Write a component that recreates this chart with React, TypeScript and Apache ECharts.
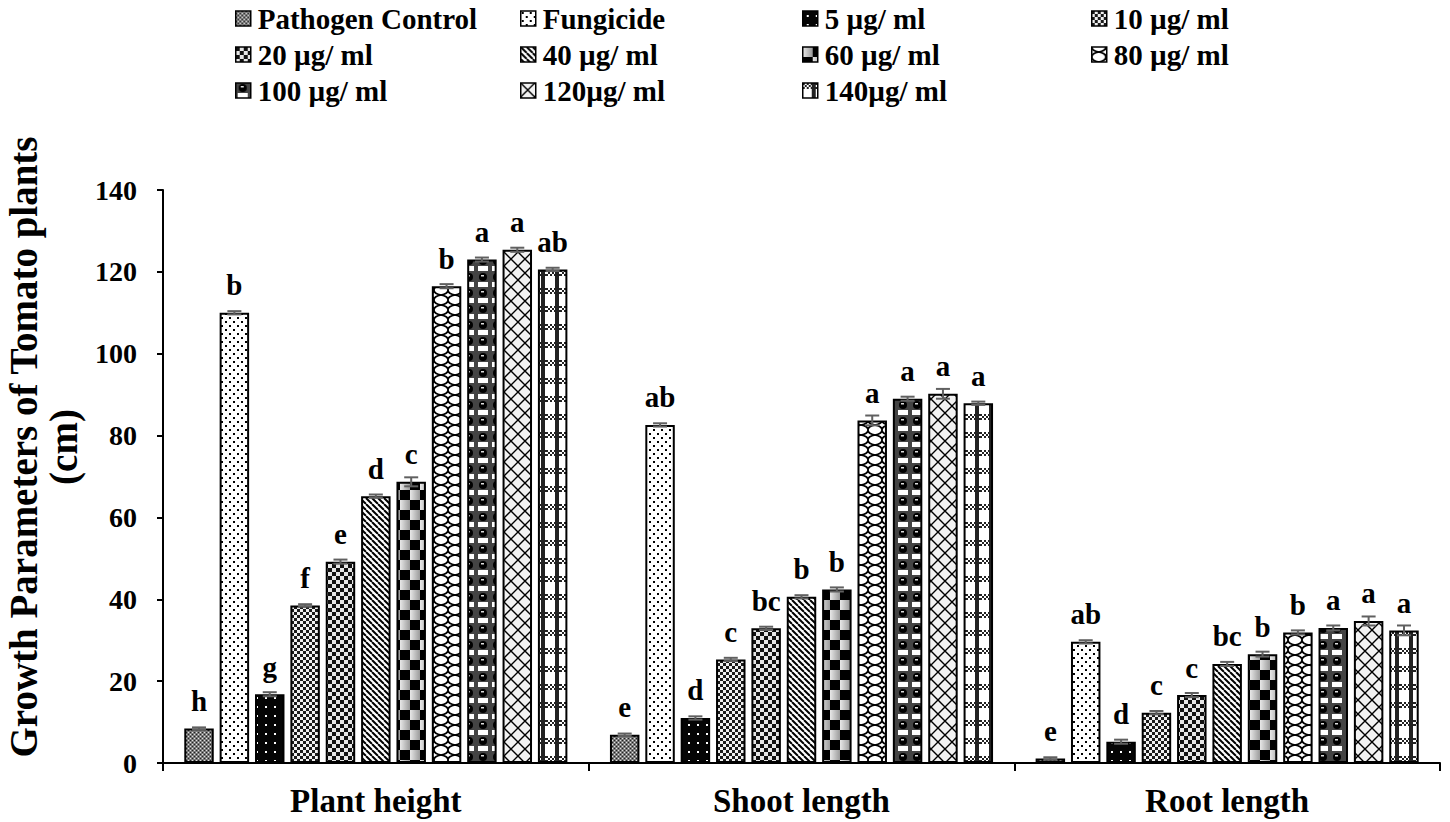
import React, { useEffect, useRef } from "react";
import * as echarts from "echarts";

const categories = ["Plant height", "Shoot length", "Root length"];
const treatments = [
  "Pathogen Control", "Fungicide", "5 µg/ ml", "10 µg/ ml", "20 µg/ ml", "40 µg/ ml",
  "60 µg/ ml", "80 µg/ ml", "100 µg/ ml", "120µg/ ml", "140µg/ ml",
];
const pathogenControl = [8.4, 6.9, 1.1];
const fungicide = [110.0, 82.6, 29.6];
const c5 = [16.8, 11.0, 5.2];
const c10 = [38.5, 25.3, 12.3];
const c20 = [49.2, 32.9, 16.6];
const c40 = [65.2, 40.6, 24.2];
const c60 = [68.7, 42.4, 26.6];
const c80 = [116.5, 83.7, 31.9];
const c100 = [123.0, 89.0, 33.0];
const c120 = [125.4, 90.2, 34.7];
const c140 = [120.6, 87.9, 32.4];
const values = [pathogenControl, fungicide, c5, c10, c20, c40, c60, c80, c100, c120, c140];

const errPC = [0.3, 0.3, 0.3];
const errFung = [0.4, 0.4, 0.4];
const err5 = [0.5, 0.4, 0.5];
const err10 = [0.3, 0.4, 0.4];
const err20 = [0.5, 0.4, 0.5];
const err40 = [0.4, 0.4, 0.5];
const err60 = [1.1, 0.5, 0.6];
const err80 = [0.5, 1.2, 0.5];
const err100 = [0.5, 0.5, 0.6];
const err120 = [0.5, 1.2, 1.1];
const err140 = [0.4, 0.4, 1.2];
const errors = [errPC, errFung, err5, err10, err20, err40, err60, err80, err100, err120, err140];

const lettersPC = ["h", "e", "e"];
const lettersFung = ["b", "ab", "ab"];
const letters5 = ["g", "d", "d"];
const letters10 = ["f", "c", "c"];
const letters20 = ["e", "bc", "c"];
const letters40 = ["d", "b", "bc"];
const letters60 = ["c", "b", "b"];
const letters80 = ["b", "a", "b"];
const letters100 = ["a", "a", "a"];
const letters120 = ["a", "a", "a"];
const letters140 = ["ab", "a", "a"];
const letters = [lettersPC, lettersFung, letters5, letters10, letters20, letters40, letters60, letters80, letters100, letters120, letters140];

const yTicks = { min: 0, max: 140, interval: 20 };
const legendColumns = [
  ["Pathogen Control", "20 µg/ ml", "100 µg/ ml"],
  ["Fungicide", "40 µg/ ml", "120µg/ ml"],
  ["5 µg/ ml", "60 µg/ ml", "140µg/ ml"],
  ["10 µg/ ml", "80 µg/ ml"],
];
const legendX = [230, 515, 797, 1086];

const FONT = "Liberation Serif";

function mk(w: number, h: number, draw: (g: CanvasRenderingContext2D) => void) {
  const c = document.createElement("canvas");
  c.width = w;
  c.height = h;
  const g = c.getContext("2d") as CanvasRenderingContext2D;
  draw(g);
  return { image: c, repeat: "repeat", imageWidth: w, imageHeight: h };
}

function checker(size: number, a: string, b: string) {
  return mk(size * 2, size * 2, (g) => {
    g.fillStyle = b;
    g.fillRect(0, 0, size * 2, size * 2);
    g.fillStyle = a;
    g.fillRect(0, 0, size, size);
    g.fillRect(size, size, size, size);
  });
}

function makePatterns() {
  const pc = mk(4, 4, (g) => {
    g.fillStyle = "#7a7a7a";
    g.fillRect(0, 0, 4, 4);
    g.fillStyle = "#e0e0e0";
    g.fillRect(0, 0, 1, 1);
    g.fillRect(2, 2, 1, 1);
    g.fillStyle = "#222";
    g.fillRect(2, 0, 1, 1);
    g.fillRect(0, 2, 1, 1);
  });
  const fung = mk(8, 8, (g) => {
    g.fillStyle = "#fff";
    g.fillRect(0, 0, 8, 8);
    g.fillStyle = "#000";
    g.fillRect(1, 1, 2, 2);
    g.fillRect(5, 5, 2, 2);
  });
  const p5 = mk(9, 9, (g) => {
    g.fillStyle = "#050505";
    g.fillRect(0, 0, 9, 9);
    g.fillStyle = "#fff";
    g.fillRect(4, 4, 2, 2);
  });
  const p10 = checker(3, "#1a1a1a", "#f0f0f0");
  const p20 = checker(4, "#111", "#e6e6e6");
  const p40 = mk(6, 6, (g) => {
    g.fillStyle = "#fff";
    g.fillRect(0, 0, 6, 6);
    g.strokeStyle = "#000";
    g.lineWidth = 2;
    for (const x of [-6, 0, 6]) {
      g.beginPath();
      g.moveTo(x, 0);
      g.lineTo(x + 6, 6);
      g.stroke();
    }
  });
  const p60 = mk(20, 20, (g) => {
    g.fillStyle = "#000";
    g.fillRect(0, 0, 20, 20);
    const gr = g.createLinearGradient(0, 0, 10, 0);
    gr.addColorStop(0, "#e8e8e8");
    gr.addColorStop(1, "#9a9a9a");
    g.fillStyle = gr;
    g.fillRect(0, 0, 10, 10);
    const gr2 = g.createLinearGradient(10, 0, 20, 0);
    gr2.addColorStop(0, "#e8e8e8");
    gr2.addColorStop(1, "#9a9a9a");
    g.fillStyle = gr2;
    g.fillRect(10, 10, 10, 10);
  });
  const p80 = mk(14, 20, (g) => {
    g.fillStyle = "#fff";
    g.fillRect(0, 0, 14, 20);
    g.strokeStyle = "#000";
    g.lineWidth = 1.6;
    g.beginPath();
    g.moveTo(0, 0);
    g.bezierCurveTo(0, 7, 14, 3, 14, 10);
    g.bezierCurveTo(14, 17, 0, 13, 0, 20);
    g.stroke();
    g.beginPath();
    g.moveTo(14, 0);
    g.bezierCurveTo(14, 7, 0, 3, 0, 10);
    g.bezierCurveTo(0, 17, 14, 13, 14, 20);
    g.stroke();
  });
  const p100 = mk(14, 16, (g) => {
    g.fillStyle = "#444";
    g.fillRect(0, 0, 14, 16);
    g.fillStyle = "#fff";
    g.fillRect(2, 10, 10, 5);
    g.fillStyle = "#000";
    g.beginPath();
    g.arc(7, 5, 4, 0, Math.PI * 2);
    g.fill();
    g.fillStyle = "#ddd";
    g.fillRect(5, 3, 3, 1.5);
  });
  const p120 = mk(14, 14, (g) => {
    g.fillStyle = "#f2f2f2";
    g.fillRect(0, 0, 14, 14);
    g.strokeStyle = "#000";
    g.lineWidth = 1.4;
    g.beginPath();
    g.moveTo(0, 0);
    g.lineTo(14, 14);
    g.moveTo(14, 0);
    g.lineTo(0, 14);
    g.stroke();
  });
  const p140 = mk(14, 18, (g) => {
    g.fillStyle = "#fff";
    g.fillRect(0, 0, 14, 18);
    g.fillStyle = "#222";
    g.fillRect(9, 0, 4, 18);
    for (let x = 0; x < 14; x += 2) {
      for (let y = 0; y < 6; y += 2) {
        if (((x + y) / 2) % 2 === 0) g.fillRect(x, y, 2, 2);
      }
    }
  });
  return [pc, fung, p5, p10, p20, p40, p60, p80, p100, p120, p140];
}

export default function App() {
  const ref = useRef<HTMLDivElement>(null);
  useEffect(() => {
    document.body.style.margin = "0";
    if (!ref.current) return;
    const chart = echarts.init(ref.current, null, { renderer: "svg" });
    const patterns = makePatterns();
    const n = treatments.length;
    const catGap = 0.1;
    const barGapRatio = 0.2;

    const barSeries = treatments.map((name, si) => ({
      name,
      type: "bar",
      data: values[si],
      barGap: "20%",
      barCategoryGap: "10%",
      itemStyle: { color: patterns[si], borderColor: "#000", borderWidth: 2 },
      label: {
        show: true,
        position: "top",
        distance: 13,
        formatter: (p: any) => letters[si][p.dataIndex],
        fontFamily: FONT,
        fontWeight: "bold",
        fontSize: 29,
        color: "#000",
      },
      emphasis: { disabled: true },
    }));

    const errData: number[][] = [];
    values.forEach((arr, si) => {
      arr.forEach((v, ci) => errData.push([ci, v, errors[si][ci], si]));
    });

    const errSeries = {
      type: "custom",
      z: 5,
      data: errData,
      renderItem: (params: any, api: any) => {
        const ci = api.value(0);
        const v = api.value(1);
        const e = api.value(2);
        const si = api.value(3);
        const band = api.size([1, 0])[0];
        const usable = band * (1 - catGap);
        const bw = usable / (n + (n - 1) * barGapRatio);
        const gap = bw * barGapRatio;
        const total = n * bw + (n - 1) * gap;
        const center = api.coord([ci, 0])[0];
        const cx = center - total / 2 + si * (bw + gap) + bw / 2;
        const yt = api.coord([ci, v + e])[1];
        const yb = api.coord([ci, v - e])[1];
        const cap = 7;
        const style = { stroke: "#606060", lineWidth: 2 };
        return {
          type: "group",
          children: [
            { type: "line", shape: { x1: cx, y1: yt, x2: cx, y2: yb }, style },
            { type: "line", shape: { x1: cx - cap, y1: yt, x2: cx + cap, y2: yt }, style },
            { type: "line", shape: { x1: cx - cap, y1: yb, x2: cx + cap, y2: yb }, style },
          ],
        };
      },
    };

    const legends = legendColumns.map((col, i) => ({
      data: col,
      orient: "vertical",
      left: legendX[i],
      top: -1,
      itemWidth: 15,
      itemHeight: 15,
      itemGap: 7,
      icon: "rect",
      itemStyle: { borderColor: "#000", borderWidth: 1.5 },
      textStyle: {
        fontFamily: FONT,
        fontWeight: "bold",
        fontSize: 29,
        lineHeight: 28,
        color: "#000",
        padding: [0, 0, 0, 2],
      },
      selectedMode: false,
    }));

    chart.setOption({
      animation: false,
      backgroundColor: "#fff",
      legend: legends,
      grid: { left: 163, right: 10, top: 190, bottom: 59, containLabel: false },
      xAxis: {
        type: "category",
        data: categories,
        axisLine: { lineStyle: { color: "#000", width: 2 } },
        axisTick: { show: true, length: 8, lineStyle: { color: "#000", width: 2 } },
        axisLabel: {
          margin: 21,
          fontFamily: FONT,
          fontWeight: "bold",
          fontSize: 33,
          color: "#000",
        },
      },
      yAxis: {
        type: "value",
        min: yTicks.min,
        max: yTicks.max,
        interval: yTicks.interval,
        axisLine: { show: true, lineStyle: { color: "#000", width: 2 } },
        axisTick: { show: true, length: 6, lineStyle: { color: "#000", width: 2 } },
        splitLine: { show: false },
        axisLabel: {
          margin: 26,
          fontFamily: FONT,
          fontWeight: "bold",
          fontSize: 28,
          color: "#000",
        },
      },
      graphic: [
        {
          type: "text",
          x: 43,
          y: 447,
          rotation: Math.PI / 2,
          style: {
            text: "Growth Parameters of Tomato plants\n(cm)",
            fontFamily: FONT,
            fontWeight: "bold",
            fontSize: 39,
            lineHeight: 40,
            fill: "#000",
            align: "center",
            verticalAlign: "middle",
          },
        },
      ],
      series: [...barSeries, errSeries],
    });
    return () => chart.dispose();
  }, []);
  return <div ref={ref} style={{ width: 1450, height: 822 }} />;
}
